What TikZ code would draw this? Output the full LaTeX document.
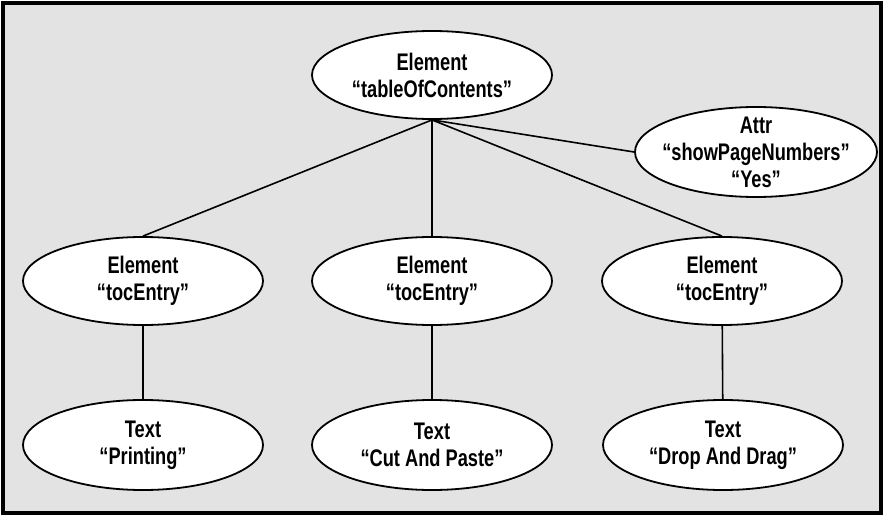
\documentclass[tikz,border=0pt]{standalone}
\usepackage{fontspec}
\setmainfont{Liberation Sans}[FakeStretch=0.76]
\usetikzlibrary{shapes,positioning}

\begin{document}
\begin{tikzpicture}[x=1pt,y=-1pt,
	domnode/.style={ellipse, draw, line width=1.8pt, fill=white, minimum width=240pt, minimum height=88pt, inner sep=0pt, align=center, font=\bfseries\fontsize{24}{27}\selectfont},
	link/.style={line width=1.6pt}]
	% frame
	\useasboundingbox (0,0) rectangle (884,516);
	\fill[white] (0,0) rectangle (884,516);
	\draw[line width=3.5pt, fill=black!11] (3,3) rectangle (881,513);
	% root and attribute
	\node[domnode] (toc) at (432,75) {Element\\“tableOfContents”};
	\node[domnode, minimum width=242pt, minimum height=90pt, inner xsep=-20pt, inner ysep=-16pt] (attr) at (756,152) {Attr\\“showPageNumbers”\\“Yes”};
	% entries
	\node[domnode] (entryA) at (143,281) {Element\\“tocEntry”};
	\node[domnode] (entryB) at (432,281) {Element\\“tocEntry”};
	\node[domnode] (entryC) at (722,281) {Element\\“tocEntry”};
	% texts
	\node[domnode, minimum height=90pt] (textA) at (143,445) {Text\\“Printing”};
	\node[domnode, minimum height=90pt] (textB) at (432,445) {Text\\“Cut And Paste”};
	\node[domnode, minimum height=90pt] (textC) at (723,445) {Text\\“Drop And Drag”};
	% connectors
	\draw[link] (toc.south) -- (entryA.north);
	\draw[link] (toc.south) -- (entryB.north);
	\draw[link] (toc.south) -- (entryC.north);
	\draw[link] (toc.south) -- (attr.west);
	\draw[link] (entryA) -- (textA);
	\draw[link] (entryB) -- (textB);
	\draw[link] (entryC) -- (textC);
\end{tikzpicture}
\end{document}
